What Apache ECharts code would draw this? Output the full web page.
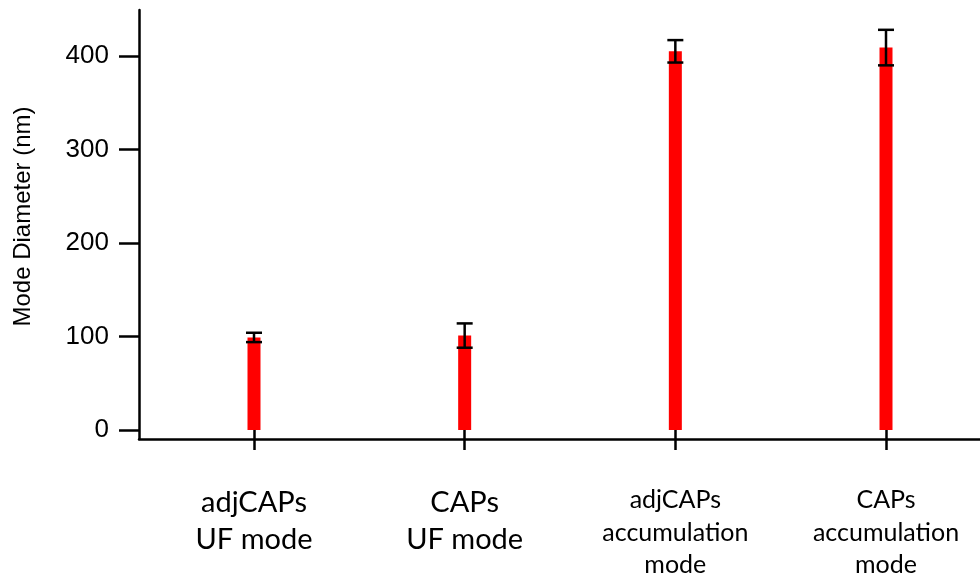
<!DOCTYPE html>
<html>
<head>
<meta charset="utf-8">
<script src="https://cdn.jsdelivr.net/npm/echarts@6/dist/echarts.min.js"></script>
<style>
  html, body { margin: 0; padding: 0; background: #ffffff; }
  #chart { width: 980px; height: 575px; }
</style>
</head>
<body>
<div id="chart"></div>
<script>
// Particle populations and their mode diameters (nm) with uncertainty
const categories = [
  'adjCAPs\nUF mode',
  'CAPs\nUF mode',
  'adjCAPs\naccumulation\nmode',
  'CAPs\naccumulation\nmode'
];
const modeDiameter = [99, 101, 405, 409];
const diameterError = [5, 13, 12, 19];
const yTicks = [0, 100, 200, 300, 400];

const chart = echarts.init(document.getElementById('chart'), null, { renderer: 'canvas' });

const errorData = modeDiameter.map((v, i) => [i, v - diameterError[i], v + diameterError[i]]);
const black = '#000000';
const axisWidth = 2.5;

const option = {
  backgroundColor: '#ffffff',
  animation: false,
  grid: [
    // data area: bands of the categories, value 0..400
    { left: 148.67, width: 842.67, top: 56, bottom: 145, containLabel: false, outerBoundsMode: 'none' },
    // frame carrying the two axis lines
    { left: 139, right: 0, top: 10, bottom: 136, containLabel: false, outerBoundsMode: 'none' }
  ],
  xAxis: [
    {
      type: 'category',
      gridIndex: 0,
      data: categories,
      offset: 9,
      axisLine: { show: false },
      axisTick: { show: true, alignWithLabel: true, length: 20, lineStyle: { color: black, width: axisWidth } },
      axisLabel: {
        interval: 0,
        margin: 45,
        color: black,
        formatter: function (value, index) {
          const tag = index < 2 ? 'big' : 'small';
          return value.split('\n').map(l => '{' + tag + '|' + l + '}').join('\n');
        },
        rich: {
          big: { fontFamily: 'Lato', fontSize: 29, lineHeight: 37, color: black, align: 'center' },
          small: { fontFamily: 'Lato', fontSize: 25, lineHeight: 32.5, color: black, align: 'center' }
        }
      },
      splitLine: { show: false }
    },
    {
      type: 'value',
      gridIndex: 1,
      min: 0,
      max: 1,
      axisLine: { show: true, onZero: false, lineStyle: { color: black, width: axisWidth } },
      axisTick: { show: false },
      axisLabel: { show: false },
      splitLine: { show: false }
    }
  ],
  yAxis: [
    {
      type: 'value',
      gridIndex: 0,
      min: yTicks[0],
      max: yTicks[yTicks.length - 1],
      interval: yTicks[1] - yTicks[0],
      offset: 9.67,
      axisLine: { show: false },
      axisTick: { show: true, length: 20, lineStyle: { color: black, width: axisWidth } },
      axisLabel: { margin: 30, color: black, fontFamily: 'Liberation Sans', fontSize: 26 },
      splitLine: { show: false }
    },
    {
      type: 'value',
      gridIndex: 1,
      min: 0,
      max: 1,
      axisLine: { show: true, onZero: false, lineStyle: { color: black, width: axisWidth } },
      axisTick: { show: false },
      axisLabel: { show: false },
      splitLine: { show: false }
    }
  ],
  graphic: [
    {
      type: 'text',
      x: 23,
      y: 216.5,
      rotation: Math.PI / 2,
      style: {
        text: 'Mode Diameter (nm)',
        fontFamily: 'Liberation Sans',
        fontSize: 24,
        fill: black,
        align: 'center',
        verticalAlign: 'middle',
        textAlign: 'center',
        textVerticalAlign: 'middle'
      }
    }
  ],
  series: [
    {
      type: 'bar',
      xAxisIndex: 0,
      yAxisIndex: 0,
      data: modeDiameter,
      barWidth: 13,
      clip: false,
      itemStyle: { color: '#ff0000' },
      z: 2
    },
    {
      type: 'custom',
      xAxisIndex: 0,
      yAxisIndex: 0,
      data: errorData,
      encode: { x: 0, y: [1, 2] },
      clip: false,
      z: 3,
      renderItem: function (params, api) {
        const i = api.value(0);
        const top = api.coord([i, api.value(2)]);
        const bot = api.coord([i, api.value(1)]);
        const hw = 8;
        const st = { stroke: black, lineWidth: 2.5 };
        return {
          type: 'group',
          children: [
            { type: 'line', shape: { x1: top[0], y1: top[1], x2: bot[0], y2: bot[1] }, style: st },
            { type: 'line', shape: { x1: top[0] - hw, y1: top[1], x2: top[0] + hw, y2: top[1] }, style: st },
            { type: 'line', shape: { x1: bot[0] - hw, y1: bot[1], x2: bot[0] + hw, y2: bot[1] }, style: st }
          ]
        };
      }
    }
  ]
};

chart.setOption(option);
</script>
</body>
</html>
